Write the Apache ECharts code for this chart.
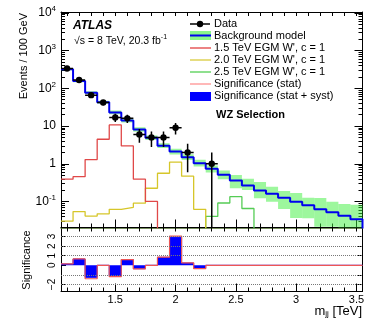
<!DOCTYPE html>
<html>
<head>
<meta charset="utf-8">
<script src="https://cdn.jsdelivr.net/npm/echarts@6/dist/echarts.min.js"></script>
<style>
html, body { margin: 0; padding: 0; background: #fff; }
#chart { width: 382px; height: 327px; }
</style>
</head>
<body>
<div id="chart"></div>
<script>
// bins of 100 GeV, centres in TeV
var binCenters = [1.1, 1.2, 1.3, 1.4, 1.5, 1.6, 1.7, 1.8, 1.9, 2.0, 2.1, 2.2, 2.3, 2.4, 2.5,
	2.6, 2.7, 2.8, 2.9, 3.0, 3.1, 3.2, 3.3, 3.4, 3.5];
var binHalf = 0.05;

// background model and its uncertainty band
var bgModel = [321, 157, 77, 43, 23, 14, 8.1, 4.9, 3.0, 2.1, 1.5, 1.04, 0.735, 0.51, 0.36,
	0.264, 0.196, 0.161, 0.126, 0.099, 0.079, 0.062, 0.052, 0.042, 0.034];
var bgLow = [300, 146, 71, 39.5, 20.5, 12.4, 7.1, 4.3, 2.6, 1.75, 1.25, 0.85, 0.59, 0.39, 0.224,
	0.2, 0.122, 0.099, 0.063, 0.0365, 0.036, 0.0215, 0.0215, 0.018, 0.018];
var bgHigh = [345, 170, 84, 47, 26, 15.8, 9.3, 5.6, 3.5, 2.5, 1.8, 1.27, 0.9, 0.66, 0.5,
	0.4, 0.33, 0.247, 0.19, 0.168, 0.126, 0.124, 0.099, 0.086, 0.082];

// signal samples (0 = empty bin)
var wp15 = [0.39, 0.455, 1.29, 4.47, 10.7, 2.97, 0.39, 0.1, 0, 0, 0, 0, 0, 0, 0,
	0, 0, 0, 0, 0, 0, 0, 0, 0, 0];
var wp20 = [0.03, 0.054, 0.041, 0.047, 0.062, 0.07, 0.09, 0.224, 0.56, 1.1, 0.47, 0.062, 0, 0, 0,
	0, 0, 0, 0, 0, 0, 0, 0, 0, 0];
var wp25 = [0, 0, 0, 0, 0, 0, 0, 0, 0, 0, 0, 0, 0.04, 0.091, 0.134,
	0.065, 0, 0, 0, 0, 0, 0, 0, 0, 0];

// data (first 13 bins, null = no point)
var dataCounts = [335, 167, 66, 42, 17, 16, 6, 5, 5, 9, 2, null, 1];
var dataErr = [18.3, 12.9, 8.1, 6.5, 4.1, 4, 2.4, 2.2, 2.2, 3, 1.4, null, 1];

// significance
var sigSyst = [0.14, 0.65, -1.25, 0, -1.08, 0.58, -0.35, 0, 0.83, 2.92, 0.24, -0.3, 0, 0, 0,
	0, 0, 0, 0, 0, 0, 0, 0, 0, 0];
var sigStat = [0.14, 0.67, -1.4, 0, -1.18, 0.6, -0.38, 0, 0.85, 3.05, 0.26, -0.35, 0, 0, 0,
	0, 0, 0, 0, 0, 0, 0, 0, 0, 0];

var logLabels = [0.1, 1, 10, 100, 1000, 10000];
var sigLabels = [-2, -1, 0, 1, 2, 3];
var sigGrid = [-2, -1, 1, 2, 3];
var xLabels = [1.5, 2, 2.5, 3, 3.5];

var xMin = 1.05, xMax = 3.55;
var yMin = 0.0204, yMax = 10600;
var yFloor = 0.001;
var font = 'Liberation Sans';

var logMinor = [];
[0.01, 0.1, 1, 10, 100, 1000].forEach(function(d) {
	for (var k = 2; k <= 9; k++) {
		logMinor.push(+(k * d).toPrecision(3));
	}
});

var edges = binCenters.map(function(c) { return +(c - binHalf).toFixed(2); });
edges.push(+(binCenters[binCenters.length - 1] + binHalf).toFixed(2));

//histogram as step line, points on the low edges
function stepLog(vals) {
	var pts = vals.map(function(v, i) { return [edges[i], v > 0 ? v : yFloor]; });
	var last = vals[vals.length - 1];
	pts.push([edges[vals.length], last > 0 ? last : yFloor]);
	pts.push([edges[vals.length], yFloor]);
	return pts;
}
function stepLin(vals) {
	var pts = vals.map(function(v, i) { return [edges[i], v]; });
	pts.push([edges[vals.length], vals[vals.length - 1]]);
	return pts;
}

var bandData = binCenters.map(function(c, i) { return [c, bgLow[i], bgHigh[i]]; });
var pointData = [];
dataCounts.forEach(function(n, i) {
	if (n != null) pointData.push([binCenters[i], n, dataErr[i]]);
});

function sigFmt(v) { return v < 0 ? '\u2212' + (-v) : '' + v; }
function logFmt(v) {
	var k = Math.round(Math.log10(v));
	if (k === 0) return '1';
	if (k === 1) return '10';
	return '10{sup|' + k + '}';
}

function histLine(name, vals, color, width, z) {
	return {
		name: name, type: 'line', step: 'end', xAxisIndex: 0, yAxisIndex: 0,
		data: stepLog(vals), symbol: 'none', clip: true, z: z,
		lineStyle: { color: color, width: width }, animation: false
	};
}

function xAx(grid, pos, ticks, len, line, lineColor) {
	return {
		gridIndex: grid, type: 'value', min: xMin, max: xMax, position: pos,
		axisLine: { show: line, onZero: false, lineStyle: { color: lineColor || '#000', width: 1 } },
		axisTick: { show: true, inside: true, length: len, customValues: ticks, lineStyle: { color: '#000' } },
		axisLabel: { show: false }, splitLine: { show: false }
	};
}
function yLog(pos, ticks, len, line) {
	return {
		gridIndex: 0, type: 'log', min: yMin, max: yMax, position: pos,
		axisLine: { show: line, onZero: false, lineStyle: { color: '#000' } },
		axisTick: { show: true, inside: true, length: len, customValues: ticks, lineStyle: { color: '#000' } },
		axisLabel: { show: false }, splitLine: { show: false }
	};
}

var xAxes = [
	xAx(0, 'bottom', xLabels, 8, true, '#4a6a2a'),
	xAx(0, 'bottom', binCenters, 4, false),
	xAx(0, 'top', binCenters, 4, true),
	xAx(1, 'bottom', xLabels, 8, true),
	xAx(1, 'bottom', binCenters, 4, false),
	xAx(1, 'top', binCenters, 4, true)
];
xAxes[0].axisLine.lineStyle.width = 1.5;
xAxes[3].axisLabel = {
	show: true, customValues: xLabels, margin: 3, color: '#000', fontSize: 11, fontFamily: font,
	showMinLabel: true, showMaxLabel: true,
	formatter: function(v) { return '' + v; }
};

var yAxes = [
	yLog('left', logLabels, 8, true),
	yLog('left', logMinor, 4, false),
	yLog('right', logLabels, 8, true),
	yLog('right', logMinor, 4, false),
	{
		gridIndex: 1, type: 'value', min: -2.73, max: 3.94, position: 'left',
		axisLine: { show: true, onZero: false, lineStyle: { color: '#000' } },
		axisTick: { show: true, inside: true, length: 5, customValues: sigLabels, lineStyle: { color: '#000' } },
		axisLabel: {
			show: true, customValues: sigLabels, rotate: 90, margin: 4, color: '#000',
			fontSize: 10, fontFamily: font, formatter: sigFmt, hideOverlap: false,
			showMinLabel: true, showMaxLabel: true
		},
		splitLine: { show: false }
	},
	{
		gridIndex: 1, type: 'value', min: -2.73, max: 3.94, position: 'right',
		axisLine: { show: true, onZero: false, lineStyle: { color: '#000' } },
		axisTick: { show: true, inside: true, length: 5, customValues: sigLabels, lineStyle: { color: '#000' } },
		axisLabel: { show: false }, splitLine: { show: false }
	}
];
yAxes[0].axisLabel = {
	show: true, customValues: logLabels, margin: 5, color: '#000', fontSize: 12, fontFamily: font,
	showMinLabel: true, showMaxLabel: true,
	formatter: logFmt,
	rich: { sup: { fontSize: 8, fontFamily: font, color: '#000', padding: [0, 0, 8, 0] } }
};

var legendY = [24, 36, 48, 60, 72, 84, 96];
var legendText = ['Data', 'Background model', '1.5 TeV EGM W\', c = 1', '2.0 TeV EGM W\', c = 1',
	'2.5 TeV EGM W\', c = 1', 'Significance (stat)', 'Significance (stat + syst)'];

var graphics = [
	{ type: 'text', x: 73, y: 26, style: { text: 'ATLAS', fill: '#000', font: 'italic bold 12px ' + font, verticalAlign: 'middle' } },
	{ type: 'text', x: 74, y: 41, style: {
		text: '\u221As = 8 TeV, 20.3 fb{sup|-1}', fill: '#000', font: '10.5px ' + font, verticalAlign: 'middle',
		rich: { sup: { fontSize: 7, fontFamily: font, padding: [0, 0, 7, 0] } }
	} },
	{ type: 'text', x: 216, y: 115, style: { text: 'WZ Selection', fill: '#000', font: 'bold 11px ' + font, verticalAlign: 'middle' } },
	{ type: 'text', x: 24, y: 13, rotation: Math.PI / 2, style: { text: 'Events / 100 GeV', fill: '#000', font: '11px ' + font, align: 'right', verticalAlign: 'middle' } },
	{ type: 'text', x: 27, y: 260, rotation: Math.PI / 2, style: { text: 'Significance', fill: '#000', font: '11px ' + font, align: 'center', verticalAlign: 'middle' } },
	{ type: 'text', x: 362, y: 311, style: {
		text: '{m|m}{s|jj}{m| [TeV]}', fill: '#000', align: 'right', verticalAlign: 'middle',
		rich: { m: { fontSize: 13, fontFamily: font }, s: { fontSize: 8, fontFamily: font, padding: [6, 0, 0, 0] } }
	} },
	// legend symbols
	{ type: 'line', shape: { x1: 190, y1: 24, x2: 210, y2: 24 }, style: { stroke: '#000', lineWidth: 1.5 } },
	{ type: 'circle', shape: { cx: 200, cy: 24, r: 3.2 }, style: { fill: '#000' } },
	{ type: 'rect', shape: { x: 190, y: 31, width: 21, height: 9 }, style: { fill: 'rgba(60,240,60,0.6)' } },
	{ type: 'line', shape: { x1: 190, y1: 35.5, x2: 211, y2: 35.5 }, style: { stroke: '#0000ee', lineWidth: 2 } },
	{ type: 'line', shape: { x1: 190, y1: 48, x2: 211, y2: 48 }, style: { stroke: '#e03030', lineWidth: 1.2 } },
	{ type: 'line', shape: { x1: 190, y1: 60, x2: 211, y2: 60 }, style: { stroke: '#d6c62a', lineWidth: 1.2 } },
	{ type: 'line', shape: { x1: 190, y1: 72, x2: 211, y2: 72 }, style: { stroke: '#44cc44', lineWidth: 1.2 } },
	{ type: 'line', shape: { x1: 190, y1: 84, x2: 211, y2: 84 }, style: { stroke: '#ff8888', lineWidth: 1.2 } },
	{ type: 'rect', shape: { x: 190, y: 92, width: 21, height: 9 }, style: { fill: '#0000ff' } }
];
legendText.forEach(function(t, i) {
	graphics.push({ type: 'text', x: 214, y: legendY[i], style: { text: t, fill: '#000', font: '11px ' + font, verticalAlign: 'middle' } });
});

var chart = echarts.init(document.getElementById('chart'), null, { renderer: 'canvas' });
chart.setOption({
	animation: false,
	backgroundColor: '#fff',
	grid: [
		{ left: 61, right: 19.5, top: 12, height: 215.5 },
		{ left: 61, right: 19.5, top: 227.5, height: 64 }
	],
	xAxis: xAxes,
	yAxis: yAxes,
	series: [
		{
			name: 'band', type: 'custom', xAxisIndex: 0, yAxisIndex: 0, clip: true, z: 2,
			data: bandData, encode: { x: 0, y: [1, 2] },
			renderItem: function(params, api) {
				var x = api.value(0);
				var p1 = api.coord([x - binHalf, api.value(2)]);
				var p2 = api.coord([x + binHalf, Math.max(api.value(1), yFloor)]);
				return {
					type: 'rect',
					shape: { x: p1[0], y: p1[1], width: p2[0] - p1[0], height: p2[1] - p1[1] },
					style: { fill: 'rgba(60,240,60,0.5)' }
				};
			}
		},
		histLine('2.5 TeV EGM W\', c = 1', wp25, '#55cc55', 1.3, 3),
		histLine('2.0 TeV EGM W\', c = 1', wp20, '#d6c62a', 1.3, 3),
		histLine('1.5 TeV EGM W\', c = 1', wp15, '#e04848', 1.3, 3),
		histLine('Background model', bgModel, '#0000ee', 2, 4),
		{
			name: 'Data', type: 'custom', xAxisIndex: 0, yAxisIndex: 0, clip: true, z: 5,
			data: pointData, encode: { x: 0, y: 1 },
			renderItem: function(params, api) {
				var x = api.value(0), n = api.value(1), e = api.value(2);
				var c = api.coord([x, n]);
				var top = api.coord([x, n + e]);
				var bot = api.coord([x, Math.max(n - e, yFloor)]);
				var l = api.coord([x - binHalf, n]);
				var r = api.coord([x + binHalf, n]);
				return {
					type: 'group',
					children: [
						{ type: 'line', shape: { x1: c[0], y1: top[1], x2: c[0], y2: bot[1] }, style: { stroke: '#000', lineWidth: 1.5 } },
						{ type: 'line', shape: { x1: l[0], y1: c[1], x2: r[0], y2: c[1] }, style: { stroke: '#000', lineWidth: 1.5 } },
						{ type: 'circle', shape: { cx: c[0], cy: c[1], r: 3.2 }, style: { fill: '#000' } }
					]
				};
			}
		},
		{
			name: 'grid lines', type: 'line', xAxisIndex: 3, yAxisIndex: 4, data: [], z: 1,
			markLine: {
				silent: true, symbol: 'none', label: { show: false }, animation: false,
				lineStyle: { color: '#777', type: 'dotted', width: 1 },
				data: sigGrid.map(function(v) { return { yAxis: v }; })
			}
		},
		{
			name: 'Significance (stat + syst)', type: 'line', step: 'end', xAxisIndex: 3, yAxisIndex: 4,
			data: stepLin(sigSyst), symbol: 'none', z: 3,
			lineStyle: { color: '#0000ff', width: 1 },
			areaStyle: { color: '#0000ff', opacity: 1 }
		},
		{
			name: 'Significance (stat)', type: 'line', step: 'end', xAxisIndex: 3, yAxisIndex: 4,
			data: stepLin(sigStat), symbol: 'none', z: 4,
			lineStyle: { color: '#ee5555', width: 1.2 }
		}
	],
	graphic: graphics
});
</script>
</body>
</html>
